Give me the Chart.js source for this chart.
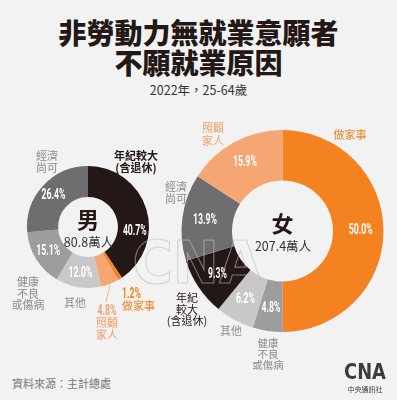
<!DOCTYPE html>
<html><head><meta charset="utf-8">
<script src="https://cdn.jsdelivr.net/npm/chart.js@4/dist/chart.umd.min.js"></script>
<style>
html,body{margin:0;padding:0;background:#f2f2f2;width:397px;height:400px;overflow:hidden;font-family:"Noto Sans CJK TC",sans-serif}
canvas{position:absolute;left:0;top:0}
.t{position:absolute;left:0;width:397px;text-align:center;color:#231815;white-space:nowrap}
</style></head><body>
<div class="t" style="top:17px;height:30px;line-height:30px;font-size:28px;font-weight:900">非勞動力無就業意願者</div>
<div class="t" style="top:47px;height:30px;line-height:30px;font-size:28px;font-weight:900">不願就業原因</div>
<div class="t" style="top:82px;height:16px;line-height:16px;font-size:12.5px;color:#333">2022年，25-64歲</div>
<div style="position:absolute;left:12px;top:376px;line-height:14px;font-size:11px;color:#777">資料來源：主計總處</div>
<canvas id="men" width="397" height="400"></canvas>
<canvas id="women" width="397" height="400"></canvas>
<canvas id="logo" width="397" height="400"></canvas>
<script>
// ---- data ----
const menCategories = ['年紀較大（含退休）','做家事','照顧家人','其他','健康不良或傷病','經濟尚可'];
const menValues = [40.7, 1.2, 4.8, 12.0, 15.1, 26.4];
const menLabels = ['40.7%','1.2%','4.8%','12.0%','15.1%','26.4%'];
const menTitle = '男';
const menTotal = '80.8萬人';

const womenCategories = ['做家事','健康不良或傷病','其他','年紀較大（含退休）','經濟尚可','照顧家人'];
const womenValues = [50.0, 4.8, 6.2, 9.3, 13.9, 15.9];
const womenLabels = ['50.0%','4.8%','6.2%','9.3%','13.9%','15.9%'];
const womenTitle = '女';
const womenTotal = '207.4萬人';

// ---- styles ----
const colorOf = {
  '年紀較大（含退休）':'#231815',
  '做家事':'#F58220',
  '照顧家人':'#F5A673',
  '其他':'#C8C8C8',
  '健康不良或傷病':'#9D9D9D',
  '經濟尚可':'#6E6E6E'
};
const CJK = '"Noto Sans CJK TC", sans-serif';

function condensed(ctx, text, x, y, color, size, align){
  ctx.save();
  ctx.font = 'bold ' + size + 'px Roboto, sans-serif';
  ctx.fillStyle = color;
  ctx.textBaseline = 'middle';
  ctx.translate(x, y);
  ctx.scale(0.62, 1);
  ctx.textAlign = align || 'center';
  ctx.fillText(text, 0, 0);
  ctx.restore();
}
function cjk(ctx, lines, x, y, gap, color, size, weight, align){
  ctx.save();
  ctx.font = (weight||'normal') + ' ' + size + 'px ' + CJK;
  ctx.fillStyle = color;
  ctx.textBaseline = 'middle';
  ctx.textAlign = align || 'center';
  lines.forEach((l,i)=>ctx.fillText(l, x, y + i*gap));
  ctx.restore();
}

function makeChart(id, cats, vals, labels, cfg){
  const labelPlugin = {
    id: 'lbl' + id,
    afterDatasetsDraw(chart){
      const ctx = chart.ctx;
      const arcs = chart.getDatasetMeta(0).data;
      let cx=0, cy=0, inner=0, outer=0;
      arcs.forEach((a,i)=>{
        const p = a.getProps(['x','y','startAngle','endAngle','innerRadius','outerRadius'], true);
        cx=p.x; cy=p.y; inner=p.innerRadius; outer=p.outerRadius;
        if (cfg.outside.includes(i)) return;
        const mid = (p.startAngle + p.endAngle)/2 + (cfg.shift[i]||0)*Math.PI/180;
        const r = p.innerRadius + cfg.rf * (p.outerRadius - p.innerRadius);
        condensed(ctx, labels[i], p.x + r*Math.cos(mid), p.y + r*Math.sin(mid), '#ffffff', cfg.fs);
      });
      // centre text
      cjk(ctx, [cfg.title], cx, cy - 7, 0, '#231815', 22, 'bold');
      cjk(ctx, [cfg.total], cx + 0.5, cy + 15, 0, '#333333', 12.5, 'normal');
      if (cfg.extra) cfg.extra(ctx, arcs, cx, cy, inner, outer);
    }
  };
  return new Chart(document.getElementById(id), {
    type: 'doughnut',
    data: { labels: cats, datasets: [{ data: vals, backgroundColor: cats.map(c=>colorOf[c]), borderWidth: 0, hoverOffset: 0 }] },
    options: {
      responsive: false, animation: false, cutout: cfg.cutout,
      layout: { padding: cfg.pad },
      plugins: { legend: { display: false }, tooltip: { enabled: false } }
    },
    plugins: [labelPlugin]
  });
}

const GREY = '#8a8a8a', ORANGE = '#F58220', PEACH = '#F2A06C', DARK = '#231815';

makeChart('men', menCategories, menValues, menLabels, {
  title: menTitle, total: menTotal, cutout: '49%', rf: 0.55, fs: 14,
  pad: { left: 27, right: 248, top: 166, bottom: 112 },
  outside: [1, 2],
  shift: { 0: 22 },
  extra(ctx, arcs, cx, cy, inner, outer){
    cjk(ctx, ['經濟','尚可'], 47, 156, 12, GREY, 11);
    cjk(ctx, ['年紀較大','(含退休)'], 136, 156, 12, DARK, 11, 'bold');
    cjk(ctx, ['健康','不良','或傷病'], 28, 282, 11.5, GREY, 11);
    cjk(ctx, ['其他'], 75, 303, 0, GREY, 11);
    condensed(ctx, menLabels[1], 122, 294, ORANGE, 14, 'left');
    cjk(ctx, ['做家事'], 122, 306, 0, ORANGE, 11, 'normal', 'left');
    condensed(ctx, menLabels[2], 107, 311, PEACH, 14);
    cjk(ctx, ['照顧','家人'], 107, 323, 12, PEACH, 11);
    // leader line for 照顧家人
    const p = arcs[2].getProps(['startAngle','endAngle'], true);
    const m = (p.startAngle + p.endAngle)/2;
    ctx.save();
    ctx.strokeStyle = PEACH; ctx.lineWidth = 0.8;
    ctx.beginPath();
    ctx.moveTo(cx + (outer+1)*Math.cos(m), cy + (outer+1)*Math.sin(m));
    ctx.lineTo(106, 302);
    ctx.stroke();
    ctx.restore();
  }
});

makeChart('women', womenCategories, womenValues, womenLabels, {
  title: womenTitle, total: womenTotal, cutout: '50%', rf: 0.55, fs: 14,
  pad: { left: 181.5, right: 13.5, top: 130, bottom: 68 },
  outside: [],
  shift: {},
  extra(ctx){
    cjk(ctx, ['照顧','家人'], 213, 128, 12.5, PEACH, 11);
    cjk(ctx, ['做家事'], 350, 135, 0, ORANGE, 11);
    cjk(ctx, ['經濟','尚可'], 176, 187, 11.5, GREY, 11);
    cjk(ctx, ['年紀','較大','(含退休)'], 187, 298, 11.5, DARK, 11);
    cjk(ctx, ['其他'], 231, 331, 0, GREY, 11);
    cjk(ctx, ['健康','不良','或傷病'], 268, 343, 10.8, GREY, 10.5);
  }
});

// CNA logo (bottom right) and faint watermark
(function(){
  const ctx = document.getElementById('logo').getContext('2d');
  // watermark
  ctx.save();
  ctx.translate(197, 268);
  ctx.scale(0.95, 1);
  ctx.font = '900 58px "DejaVu Sans", sans-serif';
  ctx.textAlign = 'center';
  ctx.textBaseline = 'middle';
  ctx.lineWidth = 1.2;
  ctx.strokeStyle = 'rgba(190,190,190,0.55)';
  ctx.strokeText('CNA', 0, 0);
  ctx.restore();
  // logo
  ctx.fillStyle = '#3c3c3c';
  ctx.font = '900 21px "DejaVu Sans", sans-serif';
  ctx.textAlign = 'center';
  ctx.textBaseline = 'middle';
  ctx.save();
  ctx.translate(365, 374);
  ctx.scale(0.85, 1);
  ctx.fillText('CNA', 0, 0);
  ctx.restore();
  ctx.font = '7px ' + CJK;
  ctx.fillText('中央通訊社', 365, 389);
})();
</script>
</body></html>
